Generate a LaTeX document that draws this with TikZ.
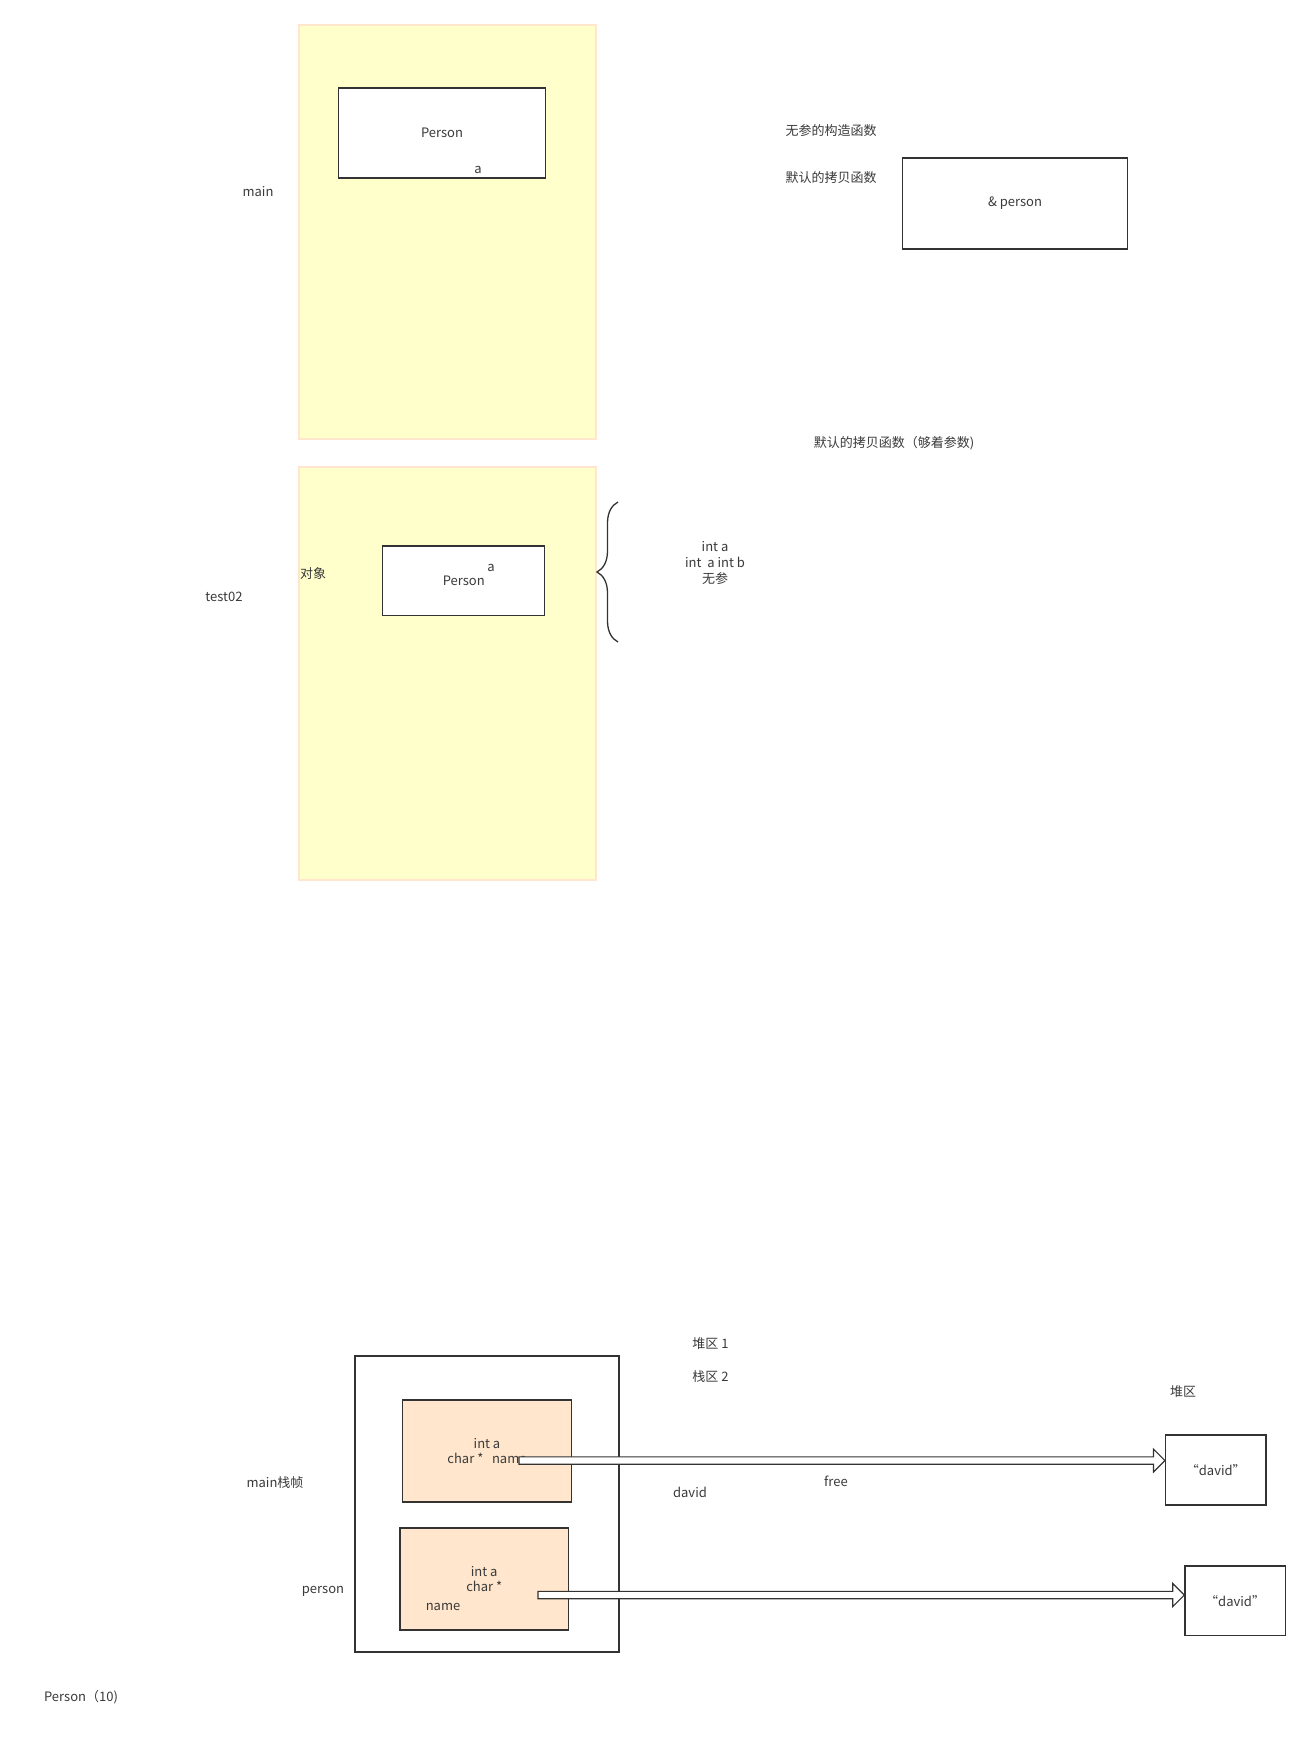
\documentclass[tikz,border=0pt]{standalone}
\usepackage{fontspec}
\setmainfont{Noto Sans CJK SC}
\usetikzlibrary{arrows.meta,positioning,decorations.pathreplacing,calc}
\definecolor{memInk}{HTML}{333333}
\definecolor{memText}{HTML}{3A3A3A}
\definecolor{memYellowFill}{HTML}{FFFFCC}
\definecolor{memYellowLine}{HTML}{FFE6CC}
\definecolor{memPeachFill}{HTML}{FFE6CC}
\newcommand{\memfont}{\fontsize{13}{15.6}\selectfont}
\tikzset{
  mem/base/.style={draw=memInk, line width=1.3pt, inner sep=0pt,
    align=center, font=\memfont, text=memText},
  mem/frame/.style={draw=memYellowLine, fill=memYellowFill,
    line width=1.5pt, inner sep=0pt},
  mem/box/.style={mem/base, fill=white},
  mem/object/.style={mem/base, fill=memPeachFill},
  mem/label/.style={font=\memfont, text=memText, align=center, inner sep=0pt},
  mem/pointer/.style={draw=memInk, fill=white, line width=1.1pt, line join=miter},
  mem/brace/.style={draw=memInk, line width=1.3pt, decorate,
    decoration={brace, amplitude=21pt}},
}
% hollow block arrow between two points at the same height
\newcommand{\memarrow}[2]{%
  \draw[mem/pointer] let \p1=(#1), \p2=(#2) in
    (\x1,\y1+3.7pt) -- (\x2-11.5pt,\y1+3.7pt) -- (\x2-11.5pt,\y1+11.5pt)
    -- (\x2,\y1) -- (\x2-11.5pt,\y1-11.5pt) -- (\x2-11.5pt,\y1-3.7pt)
    -- (\x1,\y1-3.7pt) -- cycle;}

\begin{document}
\begin{tikzpicture}[x=1pt, y=-1pt]
\fill[white] (0,0) rectangle (1310,1740);
\useasboundingbox (0,0) rectangle (1310,1740);

% ===== Upper frame: main =====
\node[mem/frame, minimum width=297pt, minimum height=414pt] (mainframe) at (447.5,232) {};
\node[mem/box, minimum width=206.6pt, minimum height=90pt] (persona) at (442,133) {Person};
\node[mem/label] (persona_var) at (478,170) {a};
\node[mem/label] (main_lbl) at (258,192) {main};

% ===== Constructor notes =====
\node[mem/label] (ctor_none) at (831,131) {无参的构造函数};
\node[mem/label] (ctor_copy) at (831,178) {默认的拷贝函数};
\node[mem/box, minimum width=224.6pt, minimum height=91pt] (refbox) at (1015,203.5) {\& person};
\node[mem/label] (ctor_param) at (894,443) {默认的拷贝函数（够着参数)};

% ===== Lower frame: test02 =====
\node[mem/frame, minimum width=297pt, minimum height=413pt] (testframe) at (447.5,673.5) {};
\node[mem/box, minimum width=162pt, minimum height=69.7pt] (personb) at (463.75,580.85) {Person};
\node[mem/label] (personb_var) at (491,568) {a};
\node[mem/label] (obj_lbl) at (313,574) {对象};
\node[mem/label] (test_lbl) at (224,597) {test02};
\coordinate (brace_bot) at (618,642);
\coordinate (brace_top) at (618,502);
\draw[mem/brace] (brace_bot) -- (brace_top);
\node[mem/label] (ctor_list) at (715,563) {int a\\int~ a int b\\无参};

% ===== Stack frame and heap =====
\node[mem/label] (heap_one) at (710.5,1344) {堆区 1};
\node[mem/label] (stack_two) at (710.5,1377) {栈区 2};
\node[mem/label] (heap_lbl) at (1183,1392) {堆区};

\node[mem/box, minimum width=264pt, minimum height=296pt] (stackframe) at (487,1504) {};
\node[mem/object, minimum width=168.6pt, minimum height=102pt] (obja) at (487,1451) {int a\\char *~~ name};
\node[mem/object, minimum width=168.3pt, minimum height=102pt] (objb) at (484.2,1579) {int a\\char *};
\node[mem/label] (objb_name) at (443,1607) {name};
\node[mem/label] (frame_lbl) at (275,1483) {main栈帧};
\node[mem/label] (person_lbl) at (323,1591) {person};

\node[mem/box, minimum width=100.4pt, minimum height=70pt] (heapa) at (1215.8,1470) {“david”};
\node[mem/box, minimum width=100.4pt, minimum height=69.7pt] (heapb) at (1235.1,1600.85) {“david”};

\node[mem/label] (free_lbl) at (836,1481) {free};
\node[mem/label] (david_lbl) at (690,1492) {david};

% pointers from the name fields into the heap
\coordinate (namea) at (519,1460.5);
\coordinate (nameb) at (538,1595);
\memarrow{namea}{namea -| heapa.west}
\memarrow{nameb}{nameb -| heapb.west}

\node[mem/label] (ctor_call) at (81,1697) {Person（10)};

\end{tikzpicture}
\end{document}
